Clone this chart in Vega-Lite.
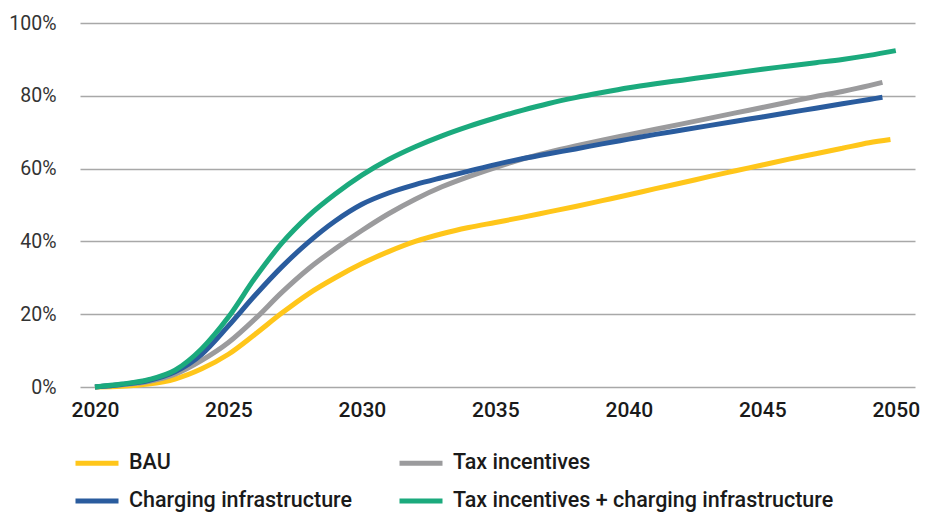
{
  "$schema": "https://vega.github.io/schema/vega-lite/v6.json",
  "width": 835,
  "height": 364,
  "autosize": "none",
  "padding": {"left": 80, "top": 23, "right": 10, "bottom": 125},
  "background": "white",
  "config": {
    "view": {"stroke": null},
    "font": "Roboto"
  },
  "data": {
    "values": [
      {"year": 2020, "value": 0, "s": "BAU"},
      {"year": 2021, "value": 0.2, "s": "BAU"},
      {"year": 2022, "value": 0.8, "s": "BAU"},
      {"year": 2023, "value": 2.2, "s": "BAU"},
      {"year": 2024, "value": 5, "s": "BAU"},
      {"year": 2025, "value": 9, "s": "BAU"},
      {"year": 2026, "value": 14.5, "s": "BAU"},
      {"year": 2027, "value": 20.3, "s": "BAU"},
      {"year": 2028, "value": 25.6, "s": "BAU"},
      {"year": 2029, "value": 30, "s": "BAU"},
      {"year": 2030, "value": 33.9, "s": "BAU"},
      {"year": 2031, "value": 37.2, "s": "BAU"},
      {"year": 2032, "value": 40, "s": "BAU"},
      {"year": 2033, "value": 42.1, "s": "BAU"},
      {"year": 2034, "value": 43.8, "s": "BAU"},
      {"year": 2035, "value": 45.2, "s": "BAU"},
      {"year": 2036, "value": 46.6, "s": "BAU"},
      {"year": 2037, "value": 48.1, "s": "BAU"},
      {"year": 2038, "value": 49.6, "s": "BAU"},
      {"year": 2039, "value": 51.2, "s": "BAU"},
      {"year": 2040, "value": 52.8, "s": "BAU"},
      {"year": 2041, "value": 54.5, "s": "BAU"},
      {"year": 2042, "value": 56.1, "s": "BAU"},
      {"year": 2043, "value": 57.8, "s": "BAU"},
      {"year": 2044, "value": 59.4, "s": "BAU"},
      {"year": 2045, "value": 61, "s": "BAU"},
      {"year": 2046, "value": 62.6, "s": "BAU"},
      {"year": 2047, "value": 64.1, "s": "BAU"},
      {"year": 2048, "value": 65.6, "s": "BAU"},
      {"year": 2049, "value": 67.1, "s": "BAU"},
      {"year": 2049.8, "value": 68, "s": "BAU"},

      {"year": 2020, "value": 0, "s": "Tax incentives"},
      {"year": 2021, "value": 0.6, "s": "Tax incentives"},
      {"year": 2022, "value": 1.5, "s": "Tax incentives"},
      {"year": 2023, "value": 3.5, "s": "Tax incentives"},
      {"year": 2024, "value": 7.3, "s": "Tax incentives"},
      {"year": 2025, "value": 12.2, "s": "Tax incentives"},
      {"year": 2026, "value": 18.7, "s": "Tax incentives"},
      {"year": 2027, "value": 26, "s": "Tax incentives"},
      {"year": 2028, "value": 32.5, "s": "Tax incentives"},
      {"year": 2029, "value": 38, "s": "Tax incentives"},
      {"year": 2030, "value": 43, "s": "Tax incentives"},
      {"year": 2031, "value": 47.6, "s": "Tax incentives"},
      {"year": 2032, "value": 51.6, "s": "Tax incentives"},
      {"year": 2033, "value": 55, "s": "Tax incentives"},
      {"year": 2034, "value": 57.8, "s": "Tax incentives"},
      {"year": 2035, "value": 60.3, "s": "Tax incentives"},
      {"year": 2036, "value": 62.6, "s": "Tax incentives"},
      {"year": 2037, "value": 64.5, "s": "Tax incentives"},
      {"year": 2038, "value": 66.2, "s": "Tax incentives"},
      {"year": 2039, "value": 67.8, "s": "Tax incentives"},
      {"year": 2040, "value": 69.3, "s": "Tax incentives"},
      {"year": 2041, "value": 70.8, "s": "Tax incentives"},
      {"year": 2042, "value": 72.3, "s": "Tax incentives"},
      {"year": 2043, "value": 73.8, "s": "Tax incentives"},
      {"year": 2044, "value": 75.3, "s": "Tax incentives"},
      {"year": 2045, "value": 76.8, "s": "Tax incentives"},
      {"year": 2046, "value": 78.3, "s": "Tax incentives"},
      {"year": 2047, "value": 79.8, "s": "Tax incentives"},
      {"year": 2048, "value": 81.2, "s": "Tax incentives"},
      {"year": 2049, "value": 82.8, "s": "Tax incentives"},
      {"year": 2049.5, "value": 83.7, "s": "Tax incentives"},

      {"year": 2020, "value": 0, "s": "Charging infrastructure"},
      {"year": 2021, "value": 0.7, "s": "Charging infrastructure"},
      {"year": 2022, "value": 1.8, "s": "Charging infrastructure"},
      {"year": 2023, "value": 4.2, "s": "Charging infrastructure"},
      {"year": 2024, "value": 9, "s": "Charging infrastructure"},
      {"year": 2025, "value": 16.8, "s": "Charging infrastructure"},
      {"year": 2026, "value": 25.2, "s": "Charging infrastructure"},
      {"year": 2027, "value": 33, "s": "Charging infrastructure"},
      {"year": 2028, "value": 39.8, "s": "Charging infrastructure"},
      {"year": 2029, "value": 45.6, "s": "Charging infrastructure"},
      {"year": 2030, "value": 50.2, "s": "Charging infrastructure"},
      {"year": 2031, "value": 53.3, "s": "Charging infrastructure"},
      {"year": 2032, "value": 55.6, "s": "Charging infrastructure"},
      {"year": 2033, "value": 57.5, "s": "Charging infrastructure"},
      {"year": 2034, "value": 59.3, "s": "Charging infrastructure"},
      {"year": 2035, "value": 61.1, "s": "Charging infrastructure"},
      {"year": 2036, "value": 62.7, "s": "Charging infrastructure"},
      {"year": 2037, "value": 64.1, "s": "Charging infrastructure"},
      {"year": 2038, "value": 65.4, "s": "Charging infrastructure"},
      {"year": 2039, "value": 66.8, "s": "Charging infrastructure"},
      {"year": 2040, "value": 68.1, "s": "Charging infrastructure"},
      {"year": 2041, "value": 69.4, "s": "Charging infrastructure"},
      {"year": 2042, "value": 70.6, "s": "Charging infrastructure"},
      {"year": 2043, "value": 71.8, "s": "Charging infrastructure"},
      {"year": 2044, "value": 73, "s": "Charging infrastructure"},
      {"year": 2045, "value": 74.2, "s": "Charging infrastructure"},
      {"year": 2046, "value": 75.4, "s": "Charging infrastructure"},
      {"year": 2047, "value": 76.6, "s": "Charging infrastructure"},
      {"year": 2048, "value": 77.8, "s": "Charging infrastructure"},
      {"year": 2049, "value": 79, "s": "Charging infrastructure"},
      {"year": 2049.5, "value": 79.6, "s": "Charging infrastructure"},

      {"year": 2020, "value": 0, "s": "Tax incentives + charging infrastructure"},
      {"year": 2021, "value": 0.8, "s": "Tax incentives + charging infrastructure"},
      {"year": 2022, "value": 2.0, "s": "Tax incentives + charging infrastructure"},
      {"year": 2023, "value": 4.6, "s": "Tax incentives + charging infrastructure"},
      {"year": 2024, "value": 10.5, "s": "Tax incentives + charging infrastructure"},
      {"year": 2025, "value": 19.2, "s": "Tax incentives + charging infrastructure"},
      {"year": 2026, "value": 30, "s": "Tax incentives + charging infrastructure"},
      {"year": 2027, "value": 39.5, "s": "Tax incentives + charging infrastructure"},
      {"year": 2028, "value": 47, "s": "Tax incentives + charging infrastructure"},
      {"year": 2029, "value": 53, "s": "Tax incentives + charging infrastructure"},
      {"year": 2030, "value": 58.2, "s": "Tax incentives + charging infrastructure"},
      {"year": 2031, "value": 62.5, "s": "Tax incentives + charging infrastructure"},
      {"year": 2032, "value": 66, "s": "Tax incentives + charging infrastructure"},
      {"year": 2033, "value": 69, "s": "Tax incentives + charging infrastructure"},
      {"year": 2034, "value": 71.6, "s": "Tax incentives + charging infrastructure"},
      {"year": 2035, "value": 73.9, "s": "Tax incentives + charging infrastructure"},
      {"year": 2036, "value": 76, "s": "Tax incentives + charging infrastructure"},
      {"year": 2037, "value": 77.9, "s": "Tax incentives + charging infrastructure"},
      {"year": 2038, "value": 79.5, "s": "Tax incentives + charging infrastructure"},
      {"year": 2039, "value": 80.9, "s": "Tax incentives + charging infrastructure"},
      {"year": 2040, "value": 82.2, "s": "Tax incentives + charging infrastructure"},
      {"year": 2041, "value": 83.3, "s": "Tax incentives + charging infrastructure"},
      {"year": 2042, "value": 84.3, "s": "Tax incentives + charging infrastructure"},
      {"year": 2043, "value": 85.3, "s": "Tax incentives + charging infrastructure"},
      {"year": 2044, "value": 86.3, "s": "Tax incentives + charging infrastructure"},
      {"year": 2045, "value": 87.3, "s": "Tax incentives + charging infrastructure"},
      {"year": 2046, "value": 88.2, "s": "Tax incentives + charging infrastructure"},
      {"year": 2047, "value": 89.1, "s": "Tax incentives + charging infrastructure"},
      {"year": 2048, "value": 90, "s": "Tax incentives + charging infrastructure"},
      {"year": 2049, "value": 91.1, "s": "Tax incentives + charging infrastructure"},
      {"year": 2050, "value": 92.4, "s": "Tax incentives + charging infrastructure"}
    ]
  },
  "mark": {"type": "line", "strokeWidth": 5, "interpolate": "monotone", "clip": false},
  "encoding": {
    "x": {
      "field": "year",
      "type": "quantitative",
      "scale": {"domain": [2019.44, 2050.72], "nice": false, "zero": false},
      "axis": {
        "title": null,
        "values": [2020, 2025, 2030, 2035, 2040, 2045, 2050],
        "format": "d",
        "grid": false,
        "domain": false,
        "ticks": false,
        "labelFont": "Roboto",
        "labelFontSize": 21,
        "labelFontWeight": 500,
        "labelColor": "#1a1a1a",
        "labelPadding": 12
      }
    },
    "y": {
      "field": "value",
      "type": "quantitative",
      "scale": {"domain": [0, 100], "nice": false},
      "axis": {
        "title": null,
        "values": [0, 20, 40, 60, 80, 100],
        "labelExpr": "datum.value + '%'",
        "grid": true,
        "gridColor": "#a8a8a8",
        "gridWidth": 1.5,
        "domain": false,
        "ticks": false,
        "labelFont": "Roboto",
        "labelFontSize": 19.5,
        "labelColor": "#333333",
        "labelPadding": 24
      }
    },
    "color": {
      "field": "s",
      "type": "nominal",
      "sort": ["BAU", "Tax incentives", "Charging infrastructure", "Tax incentives + charging infrastructure"],
      "scale": {
        "domain": ["BAU", "Tax incentives", "Charging infrastructure", "Tax incentives + charging infrastructure"],
        "range": ["#FFC61A", "#9B9B9D", "#2A5C9E", "#1BAA7D"]
      },
      "legend": {
        "title": null,
        "orient": "none",
        "legendX": -7,
        "legendY": 416,
        "columns": 2,
        "direction": "horizontal",
        "symbolType": "stroke",
        "symbolSize": 1849,
        "symbolStrokeWidth": 5,
        "labelFont": "Roboto",
        "labelFontSize": 21.5,
        "labelFontWeight": 500,
        "labelColor": "#1a1a1a",
        "labelOffset": 8,
        "labelLimit": 500,
        "columnPadding": 36,
        "rowPadding": 3,
        "padding": 0
      }
    }
  }
}
